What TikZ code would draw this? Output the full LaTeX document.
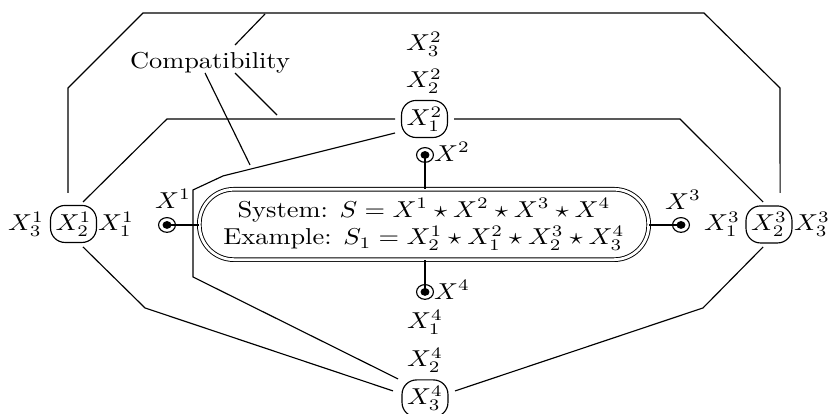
\documentclass[tikz,border=0pt]{standalone}
\usetikzlibrary{calc}
\begin{document}
\begin{tikzpicture}[x=0.3788pt, y=-0.4348pt, xscale=1.148, transform shape,
  conn/.style={line width=0.5pt},
  comp/.style={draw, line width=0.5pt, rounded corners=6.3pt, minimum width=17.4pt, minimum height=16.1pt, inner sep=1pt},
  lab/.style={inner sep=0pt},
  port/.style={draw, circle, line width=0.5pt, minimum size=6.4pt, inner sep=0pt,
    path picture={\fill (path picture bounding box.center) circle[radius=1.7pt];}},
  sysbox/.style={draw, double, double distance=1.2pt, line width=0.4pt, rounded corners=15pt,
    minimum width=170.2pt, minimum height=30.6pt, align=center, inner sep=0pt}]
\useasboundingbox (0,0) rectangle (830,414);

% central system box
\node[sysbox] (sys) at (424,224.5) {System: $S = X^1\star X^2\star X^3\star X^4$\\Example: $S_1 = X^1_2\star X^2_1\star X^3_2\star X^4_3$};

% ports
\node[port] (p1) at (167,225) {};
\node[lab] (l1) at (173,199) {$X^1$};
\node[port] (p2) at (425,155) {};
\node[lab] (l2) at (452,152) {$X^2$};
\node[port] (p3) at (681,225) {};
\node[lab] (l3) at (683,200) {$X^3$};
\node[port] (p4) at (425,292) {};
\node[lab] (l4) at (452,290) {$X^4$};

\draw[conn] (p1.center) -- (p1.center -| sys.west);
\draw[conn] (p2.center) -- (p2.center |- sys.north);
\draw[conn] (p3.center) -- (p3.center -| sys.east);
\draw[conn] (p4.center) -- (p4.center |- sys.south);

% component nodes and their labels
\node[comp] (a2) at (73.5,224) {$X^1_2$};
\node[lab] (a3) at (26,224) {$X^1_3$};
\node[lab] (a1) at (116,224) {$X^1_1$};
\node[comp] (c2) at (769,224.5) {$X^3_2$};
\node[lab] (c1) at (722,224) {$X^3_1$};
\node[lab] (c3) at (812,224) {$X^3_3$};
\node[comp] (b1) at (424.5,119) {$X^2_1$};
\node[lab] (b2) at (424,81) {$X^2_2$};
\node[lab] (b3) at (424,44) {$X^2_3$};
\node[comp] (d3) at (425,398.5) {$X^4_3$};
\node[lab] (d2) at (425,360) {$X^4_2$};
\node[lab] (d1) at (425,322) {$X^4_1$};

\node[lab] (compat) at (210,63) {Compatibility};

% connector end points
\coordinate (a2n) at (68,193);
\coordinate (c2n) at (780,193);
\coordinate (a2ne) at (83,202);
\coordinate (c2nw) at (763,202);
\coordinate (a2se) at (83,247);
\coordinate (c2sw) at (763,247);
\coordinate (b1w) at (395,119);
\coordinate (b1e) at (454,119);
\coordinate (b1sw) at (395,133);
\coordinate (d3nw) at (398,379);
\coordinate (d3w) at (393,391);
\coordinate (d3e) at (455,391);

% compatibility connectors
\draw[conn] (a2n) -- (68,88) -- (143,13) -- (704,13) -- (780,88) -- (c2n);
\draw[conn] (a2ne) -- (167,119) -- (b1w);
\draw[conn] (b1e) -- (680,119) -- (c2nw);
\draw[conn] (b1sw) -- (223,176) -- (193,190) -- (193,277) -- (d3nw);
\draw[conn] (a2se) -- (145,308) -- (d3w);
\draw[conn] (c2sw) -- (703,308) -- (d3e);

% label pointers
\coordinate (k1s) at (235,45);
\coordinate (k1e) at (265,14);
\coordinate (k2s) at (235,73);
\coordinate (k2e) at (277,115);
\coordinate (k3s) at (205,73);
\coordinate (k3e) at (250,165);
\draw[conn] (k1s) -- (k1e);
\draw[conn] (k2s) -- (k2e);
\draw[conn] (k3s) -- (k3e);
\end{tikzpicture}
\end{document}
